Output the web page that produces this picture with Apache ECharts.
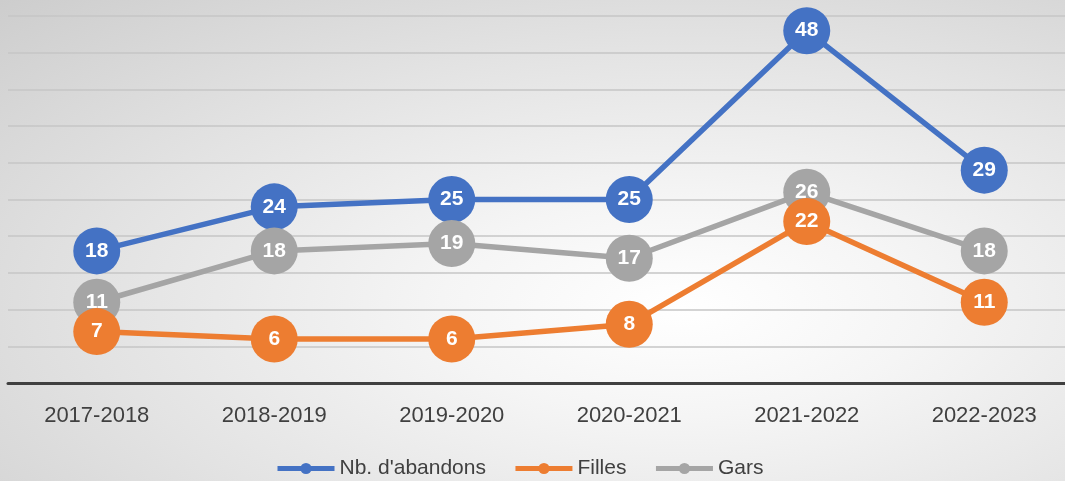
<!DOCTYPE html>
<html>
<head>
<meta charset="utf-8">
<script src="https://cdn.jsdelivr.net/npm/echarts@6/dist/echarts.min.js"></script>
<style>
html,body{margin:0;padding:0;}
#c{width:1065px;height:481px;background:radial-gradient(ellipse farthest-corner at 64% 64%, #ffffff 0%, #f5f5f5 25%, #e3e3e3 60%, #cdcdcd 100%);}
</style>
</head>
<body>
<div id="c"></div>
<script>
const categories = ['2017-2018','2018-2019','2019-2020','2020-2021','2021-2022','2022-2023'];
const abandons = [18,24,25,25,48,29];
const filles = [7,6,6,8,22,11];
const gars = [11,18,19,17,26,18];
const seriesNames = ["Nb. d'abandons", 'Filles', 'Gars'];
const colors = ['#4472C4', '#ED7D31', '#A5A5A5'];

const chart = echarts.init(document.getElementById('c'));
function mk(name, data, color, z) {
  return {
    name: name, type: 'line', data: data, z: z,
    symbol: 'circle', symbolSize: 47,
    lineStyle: {width: 5.5, color: color},
    itemStyle: {color: color},
    label: {show: true, position: 'inside', color: '#fff', fontWeight: 'bold', fontSize: 21, fontFamily: 'Liberation Sans'},
    emphasis: {disabled: true}
  };
}
chart.setOption({
  animation: false,
  backgroundColor: 'transparent',
  grid: {left: 8, top: 16, right: -8, bottom: 98, outerBoundsMode: 'none', containLabel: false},
  legend: {
    data: seriesNames, bottom: -3, left: 270,
    itemWidth: 57, itemHeight: 14, itemGap: 27,
    lineStyle: {width: 5},
    textStyle: {fontSize: 21, color: '#404040', fontFamily: 'Liberation Sans'}
  },
  xAxis: {
    type: 'category', data: categories, boundaryGap: true,
    axisLine: {lineStyle: {color: '#404040', width: 3}},
    axisTick: {show: false},
    axisLabel: {fontSize: 22, color: '#404040', margin: 22, fontFamily: 'Liberation Sans'}
  },
  yAxis: {
    type: 'value', min: 0, max: 50, interval: 5,
    axisLabel: {show: false}, axisLine: {show: false}, axisTick: {show: false},
    splitLine: {lineStyle: {color: '#c6c6c6', width: 1.5}}
  },
  series: [
    mk(seriesNames[0], abandons, colors[0], 2),
    mk(seriesNames[1], filles, colors[1], 4),
    mk(seriesNames[2], gars, colors[2], 3)
  ]
});
</script>
</body>
</html>
